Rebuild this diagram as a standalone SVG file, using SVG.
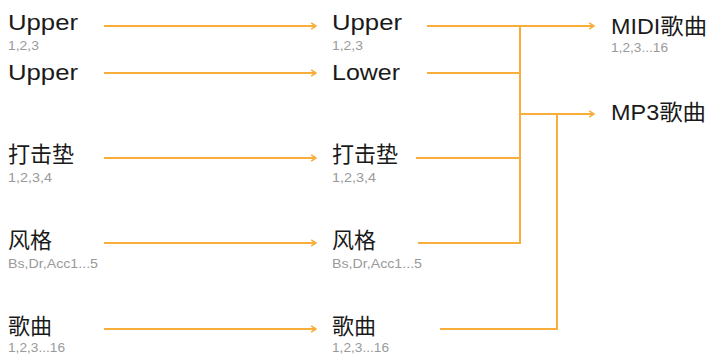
<svg xmlns="http://www.w3.org/2000/svg" width="709" height="354" viewBox="0 0 709 354">
<style>
.t{font-family:"Liberation Sans","Noto Sans CJK SC",sans-serif;font-size:22px;fill:#1a1a1a}
.s{font-family:"Liberation Sans","Noto Sans CJK SC",sans-serif;font-size:13px;fill:#9a9a9a}
.c{fill:none;stroke:#F9AD3A;stroke-width:2}
</style>
<defs>
<marker id="ah" viewBox="0 0 10 10" refX="9" refY="5" markerWidth="8" markerHeight="8" markerUnits="userSpaceOnUse" orient="auto">
<path d="M3,1 L9,5 L3,9" fill="none" stroke="#F9AD3A" stroke-width="2"/>
</marker>
</defs>
<g id="connectors">
<line class="c" x1="104" y1="26" x2="316" y2="26" marker-end="url(#ah)"/>
<line class="c" x1="104" y1="73" x2="316" y2="73" marker-end="url(#ah)"/>
<line class="c" x1="104" y1="158" x2="316" y2="158" marker-end="url(#ah)"/>
<line class="c" x1="104" y1="243" x2="316" y2="243" marker-end="url(#ah)"/>
<line class="c" x1="104" y1="329" x2="316" y2="329" marker-end="url(#ah)"/>
<line class="c" x1="427" y1="26" x2="520" y2="26"/>
<line class="c" x1="427" y1="73" x2="520" y2="73"/>
<line class="c" x1="416" y1="158" x2="520" y2="158"/>
<polyline class="c" points="418,243 520,243 520,26"/>
<polyline class="c" points="440,329 557,329 557,114"/>
<line class="c" x1="520" y1="26" x2="594" y2="26" marker-end="url(#ah)"/>
<line class="c" x1="520" y1="114" x2="594" y2="114" marker-end="url(#ah)"/>
</g>
<g id="in-upper1"><text class="t" x="8" y="30" textLength="70" lengthAdjust="spacingAndGlyphs">Upper</text><text class="s" x="8" y="50" textLength="31" lengthAdjust="spacingAndGlyphs">1,2,3</text></g>
<g id="in-upper2"><text class="t" x="8" y="80" textLength="70" lengthAdjust="spacingAndGlyphs">Upper</text></g>
<g id="in-pad"><text class="t" x="8" y="162">打击垫</text><text class="s" x="8" y="182" textLength="44" lengthAdjust="spacingAndGlyphs">1,2,3,4</text></g>
<g id="in-style"><text class="t" x="8" y="248">风格</text><text class="s" x="8" y="268" textLength="90" lengthAdjust="spacingAndGlyphs">Bs,Dr,Acc1...5</text></g>
<g id="in-song"><text class="t" x="8" y="334">歌曲</text><text class="s" x="8" y="352" textLength="57" lengthAdjust="spacingAndGlyphs">1,2,3...16</text></g>
<g id="mid-upper"><text class="t" x="332" y="30" textLength="70" lengthAdjust="spacingAndGlyphs">Upper</text><text class="s" x="332" y="50" textLength="31" lengthAdjust="spacingAndGlyphs">1,2,3</text></g>
<g id="mid-lower"><text class="t" x="332" y="80" textLength="68" lengthAdjust="spacingAndGlyphs">Lower</text></g>
<g id="mid-pad"><text class="t" x="332" y="162">打击垫</text><text class="s" x="332" y="182" textLength="44" lengthAdjust="spacingAndGlyphs">1,2,3,4</text></g>
<g id="mid-style"><text class="t" x="332" y="248">风格</text><text class="s" x="332" y="268" textLength="90" lengthAdjust="spacingAndGlyphs">Bs,Dr,Acc1...5</text></g>
<g id="mid-song"><text class="t" x="332" y="334">歌曲</text><text class="s" x="332" y="352" textLength="57" lengthAdjust="spacingAndGlyphs">1,2,3...16</text></g>
<g id="out-midi"><text class="t" x="611" y="34" textLength="96" lengthAdjust="spacingAndGlyphs">MIDI歌曲</text><text class="s" x="611" y="52" textLength="57" lengthAdjust="spacingAndGlyphs">1,2,3...16</text></g>
<g id="out-mp3"><text class="t" x="611" y="120" textLength="95" lengthAdjust="spacingAndGlyphs">MP3歌曲</text></g>
</svg>
